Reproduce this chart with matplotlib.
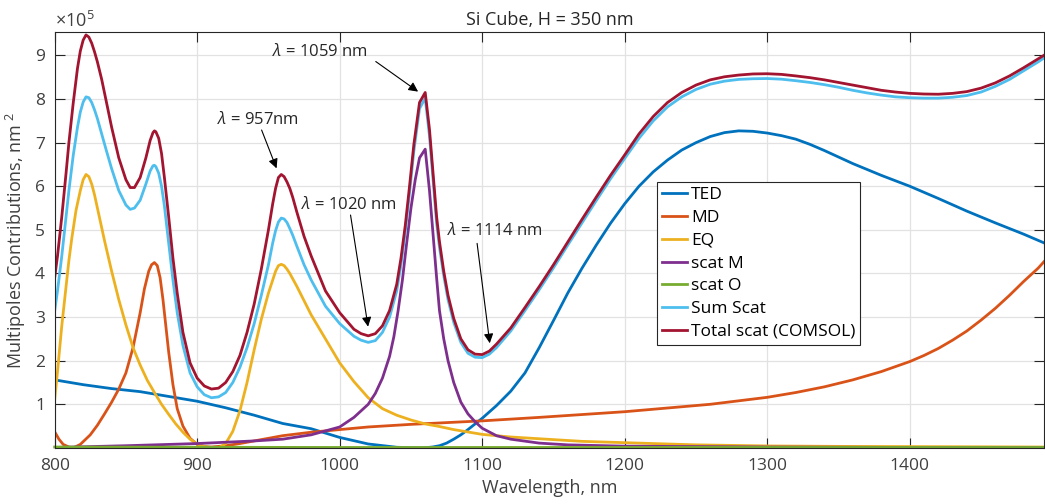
import numpy as np
import matplotlib
matplotlib.use("Agg")
import matplotlib.pyplot as plt

plt.rcParams['font.family'] = ['Open Sans', 'DejaVu Sans']
plt.rcParams['mathtext.fontset'] = 'custom'
plt.rcParams['mathtext.rm'] = 'Open Sans'
plt.rcParams['mathtext.it'] = 'Open Sans:italic'

# values are in units of 1e5 nm^2
wl_ted = [800, 820, 840, 860, 880, 900, 920, 940, 960, 980, 1000, 1020, 1040, 1055,
          1060, 1065, 1070, 1075, 1080, 1085, 1090, 1095, 1100, 1110, 1120, 1130, 1140,
          1150, 1160, 1170, 1180, 1190, 1200, 1210, 1220, 1230, 1240, 1250, 1260, 1270,
          1280, 1290, 1300, 1310, 1320, 1330, 1340, 1360, 1380, 1400, 1420, 1440,
          1460, 1480, 1495]
ted = [1.56, 1.45, 1.36, 1.29, 1.18, 1.07, 0.92, 0.75, 0.56, 0.44, 0.24, 0.09, 0.015, 0.0,
       0.005, 0.02, 0.05, 0.11, 0.2, 0.3, 0.42, 0.55, 0.68, 0.97, 1.3, 1.72, 2.3,
       2.92, 3.55, 4.12, 4.65, 5.15, 5.6, 6.0, 6.33, 6.6, 6.83, 7.0, 7.14, 7.23,
       7.27, 7.26, 7.22, 7.16, 7.08, 6.96, 6.82, 6.52, 6.25, 6.0, 5.72, 5.43,
       5.16, 4.9, 4.69]

wl_md = [800, 803, 806, 810, 813, 818, 825, 830, 835, 840, 845, 850, 855, 860, 863,
         866, 868, 870, 872, 874, 876, 878, 880, 883, 886, 890, 895, 900, 905, 910,
         920, 930, 940, 950, 960, 980, 1000, 1020, 1050, 1100, 1140, 1200, 1260, 1300,
         1320, 1340, 1360, 1380, 1400, 1410, 1420, 1430, 1440, 1450, 1460, 1470, 1480,
         1490, 1495]
md = [0.37, 0.2, 0.08, 0.02, 0.0, 0.08, 0.3, 0.52, 0.78, 1.05, 1.35, 1.72, 2.3, 3.1, 3.65,
      4.05, 4.2, 4.25, 4.18, 3.9, 3.4, 2.8, 2.2, 1.45, 0.9, 0.5, 0.22, 0.08, 0.03, 0.02,
      0.05, 0.1, 0.16, 0.22, 0.28, 0.36, 0.42, 0.48, 0.54, 0.62, 0.7, 0.83, 1.0, 1.16,
      1.27, 1.4, 1.56, 1.75, 1.98, 2.12, 2.28, 2.47, 2.68, 2.93, 3.2, 3.5, 3.82,
      4.12, 4.3]

wl_eq = [800, 802, 805, 808, 810, 812, 815, 818, 820, 822, 824, 826, 828, 830, 835,
         840, 845, 850, 855, 860, 865, 870, 875, 880, 885, 890, 895, 900, 905, 910,
         915, 920, 925, 930, 935, 940, 945, 950, 953, 955, 957, 959, 961, 963, 965,
         967, 970, 980, 990, 1000, 1010, 1020, 1030, 1040, 1050, 1060, 1070, 1080,
         1100, 1120, 1140, 1170, 1200, 1250, 1300, 1350, 1400, 1450, 1495]
eq = [1.1, 1.75, 2.8, 3.7, 4.3, 4.8, 5.45, 5.9, 6.15, 6.27, 6.22, 6.05, 5.8, 5.5, 4.75,
      4.05, 3.4, 2.82, 2.3, 1.9, 1.55, 1.27, 1.0, 0.77, 0.55, 0.36, 0.2, 0.09, 0.03, 0.0,
      0.0, 0.1, 0.38, 0.85, 1.5, 2.25, 2.95, 3.55, 3.85, 4.05, 4.18, 4.21, 4.18, 4.1, 4.0,
      3.88, 3.7, 3.05, 2.5, 1.95, 1.52, 1.15, 0.9, 0.75, 0.64, 0.55, 0.49, 0.42,
      0.31, 0.25, 0.21, 0.15, 0.12, 0.07, 0.045, 0.035, 0.03, 0.025, 0.02]

wl_m = [800, 850, 900, 940, 960, 980, 1000, 1010, 1020, 1025, 1030, 1035, 1038, 1041,
        1044, 1047, 1050, 1053, 1056, 1060, 1063, 1066, 1068, 1070, 1073, 1076, 1080,
        1085, 1090, 1095, 1100, 1110, 1120, 1140, 1160, 1200, 1300, 1400, 1495]
scat_m = [0.01, 0.05, 0.1, 0.16, 0.2, 0.3, 0.48, 0.7, 1.0, 1.25, 1.6, 2.1, 2.55, 3.15,
          3.85, 4.7, 5.5, 6.15, 6.65, 6.85, 5.9, 4.7, 3.9, 3.15, 2.5, 2.0, 1.5,
          1.05, 0.78, 0.6, 0.45, 0.28, 0.2, 0.11, 0.07, 0.04, 0.02, 0.01, 0.01]

wl_o = [800, 900, 1000, 1100, 1200, 1300, 1400, 1495]
scat_o = [0.02, 0.015, 0.01, 0.01, 0.01, 0.01, 0.01, 0.01]

wl_tot = [800, 802, 805, 808, 810, 813, 816, 818, 820, 822, 824, 826, 828, 830, 833,
          836, 840, 845, 850, 853, 856, 860, 864, 867, 869, 870, 871, 873, 875, 877,
          880, 883, 886, 890, 895, 900, 905, 910, 915, 920, 925, 930, 935, 940, 945,
          950, 953, 955, 957, 959, 961, 963, 965, 967, 970, 975, 980, 990, 1000, 1010,
          1015, 1020, 1025, 1030, 1035, 1040, 1043, 1046, 1049, 1052, 1056, 1060, 1063,
          1066, 1068, 1070, 1073, 1076, 1080, 1085, 1090, 1095, 1100, 1105, 1110, 1120,
          1130, 1140, 1150, 1160, 1170, 1180, 1190, 1200, 1210, 1220, 1230, 1240, 1250,
          1260, 1270, 1280, 1290, 1300, 1310, 1320, 1330, 1340, 1350, 1360, 1370, 1380,
          1390, 1400, 1410, 1420, 1430, 1440, 1450, 1460, 1470, 1480, 1490, 1495]
sum_scat = [3.14, 3.6, 4.4, 5.3, 5.9, 6.7, 7.35, 7.7, 7.93, 8.05, 8.03, 7.92, 7.75, 7.55, 7.2,
            6.85, 6.4, 5.9, 5.57, 5.47, 5.5, 5.68, 6.05, 6.35, 6.47, 6.48, 6.45, 6.3, 6.0, 5.55,
            4.7, 3.85, 3.1, 2.35, 1.72, 1.4, 1.22, 1.15, 1.17, 1.27, 1.5, 1.85, 2.3, 2.85, 3.5,
            4.2, 4.7, 4.98, 5.18, 5.27, 5.25, 5.17, 5.03, 4.88, 4.62, 4.2, 3.85, 3.25, 2.85, 2.56,
            2.47, 2.42, 2.46, 2.65, 3.0, 3.6, 4.2, 4.95, 5.85, 6.8, 7.78, 8.02, 7.15,
            5.95, 5.15, 4.6, 3.95, 3.4, 2.88, 2.42, 2.17, 2.08, 2.07, 2.15, 2.3, 2.68,
            3.15, 3.63, 4.13, 4.65, 5.16, 5.67, 6.17, 6.64, 7.1, 7.5, 7.82, 8.05, 8.22,
            8.34, 8.41, 8.45, 8.465, 8.47, 8.455, 8.42, 8.38, 8.33, 8.27, 8.2, 8.14, 8.09,
            8.05, 8.03, 8.02, 8.02, 8.04, 8.08, 8.16, 8.29, 8.45, 8.65, 8.85, 8.96]
total_scat = [3.9, 4.4, 5.3, 6.3, 7.0, 7.9, 8.7, 9.1, 9.35, 9.47, 9.42, 9.28, 9.08, 8.85, 8.45,
              7.98, 7.35, 6.65, 6.15, 5.97, 5.97, 6.2, 6.65, 7.05, 7.23, 7.27, 7.25, 7.1, 6.75, 6.2,
              5.3, 4.35, 3.55, 2.65, 1.95, 1.6, 1.42, 1.35, 1.37, 1.5, 1.75, 2.12, 2.65, 3.3, 4.1,
              5.0, 5.6, 5.95, 6.2, 6.27, 6.22, 6.1, 5.95, 5.75, 5.4, 4.85, 4.4, 3.6, 3.1, 2.72,
              2.62, 2.57, 2.62, 2.8, 3.15, 3.75, 4.35, 5.1, 6.0, 6.95, 7.92, 8.15, 7.3,
              6.1, 5.3, 4.73, 4.05, 3.5, 2.97, 2.5, 2.25, 2.15, 2.14, 2.22, 2.38, 2.75,
              3.22, 3.7, 4.2, 4.72, 5.24, 5.75, 6.25, 6.72, 7.2, 7.6, 7.92, 8.15, 8.32,
              8.44, 8.51, 8.55, 8.575, 8.58, 8.565, 8.53, 8.49, 8.44, 8.38, 8.32, 8.26, 8.2,
              8.16, 8.13, 8.115, 8.11, 8.13, 8.17, 8.25, 8.37, 8.53, 8.72, 8.92, 9.02]

labels = ['TED', 'MD', 'EQ', 'scat M', 'scat O', 'Sum Scat', 'Total scat (COMSOL)']
colors = ['#0072BD', '#D95319', '#EDB120', '#7E2F8E', '#77AC30', '#4DBEEE', '#A2142F']

fig = plt.figure(figsize=(10.45, 5.04), dpi=100)
ax = fig.add_axes([0.0523, 0.1113, 0.9472, 0.8246])

series = [(wl_ted, ted), (wl_md, md), (wl_eq, eq), (wl_m, scat_m), (wl_o, scat_o),
          (wl_tot, sum_scat), (wl_tot, total_scat)]
for (x, y), lab, c in zip(series, labels, colors):
    ax.plot(x, y, color=c, lw=2, label=lab, clip_on=(lab != 'scat O'))

ax.set_xlim(800, 1494.5)
ax.set_ylim(0, 9.53)
ax.set_xticks([800, 900, 1000, 1100, 1200, 1300, 1400])
ax.set_yticks(range(1, 10))
ax.grid(True, color='#e2e2e2', lw=0.9)
ax.set_axisbelow(True)
ax.tick_params(direction='in', length=7, width=0.8, top=True, right=True,
               colors='#262626', labelsize=12.5, labelcolor='#404040', pad=7)
for s in ax.spines.values():
    s.set_color('#262626')
    s.set_linewidth(0.8)

ax.set_xlabel('Wavelength, nm', fontsize=13, color='#404040', labelpad=4)
ax.set_ylabel(r'Multipoles Contributions, nm$^{\ 2}$', fontsize=13, color='#404040', labelpad=5)
ax.set_title('Si Cube, H = 350 nm', fontsize=13, color='#262626', pad=5)
ax.text(0.0, 1.004, r'$\times10^{5}$', transform=ax.transAxes, fontsize=13,
        color='#404040', ha='left', va='bottom')

arrow = dict(arrowstyle='-|>', lw=0.8, color='k', mutation_scale=14, shrinkA=0, shrinkB=0)
notes = [(r'$\lambda$ = 1059 nm', (986.3, 9.09), (1025.3, 8.86), (1055.0, 8.17)),
         (r'$\lambda$ = 957nm', (942.9, 7.52), (945.2, 7.29), (955.7, 6.41)),
         (r'$\lambda$ = 1020 nm', (1006.6, 5.57), (1007.6, 5.34), (1019.9, 2.78)),
         (r'$\lambda$ = 1114 nm', (1108.6, 4.98), (1096.4, 4.69), (1105.3, 2.40))]
for txt, pos, tail, head in notes:
    ax.text(pos[0], pos[1], txt, fontsize=12, color='#262626', ha='center', va='center')
    ax.annotate('', xy=head, xytext=tail, arrowprops=arrow)

leg = ax.legend(loc='upper left', bbox_to_anchor=(0.6085, 0.6398), fontsize=12.5,
                fancybox=False, framealpha=1, edgecolor='#262626', borderaxespad=0,
                handlelength=1.45, handletextpad=0.2, labelspacing=0.38, borderpad=0.3)
leg.get_frame().set_linewidth(0.8)

fig.savefig('out.png', dpi=100)
